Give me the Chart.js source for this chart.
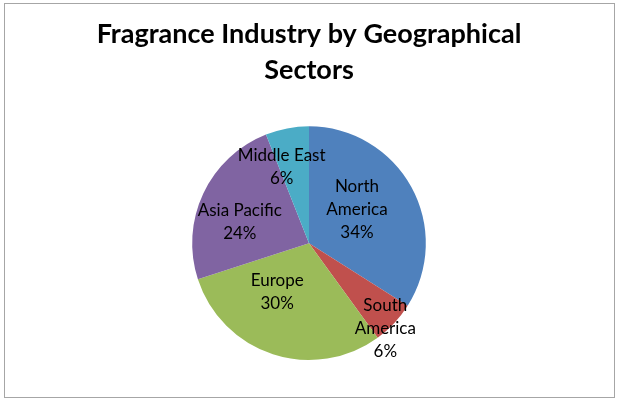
<!DOCTYPE html>
<html>
<head>
<meta charset="utf-8">
<script src="https://cdn.jsdelivr.net/npm/chart.js@4.4.1/dist/chart.umd.min.js"></script>
<style>
    html, body { margin: 0; padding: 0; background: #fff; }
    #frame {
        position: absolute; left: 4px; top: 3px;
        width: 609px; height: 393px;
        border: 1px solid #a6a6a6;
    }
    #wrap { position: absolute; left: 0; top: 0; width: 618px; height: 405px; }
</style>
</head>
<body>
<div id="frame"></div>
<div id="wrap"><canvas id="pie-chart" width="618" height="405"></canvas></div>
<script>
const categories = ["North America", "South America", "Europe", "Asia Pacific", "Middle East"];
const shares = [34, 6, 30, 24, 6];
const colors = ["#4F81BD", "#C0504D", "#9BBB59", "#8064A2", "#4BACC6"];

// where each label sits: fraction of radius, angle nudge (deg), wrap name
const labelPlace = [
    { f: 0.5, da: -6, wrap: true },
    { f: 0.98, da: 5, wrap: true },
    { f: 0.5, da: 15, wrap: false },
    { f: 0.62, da: -8, wrap: false },
    { f: 0.69, da: -9, wrap: false },
];

const sliceLabels = {
    id: "sliceLabels",
    afterDatasetsDraw(chart) {
        const ctx = chart.ctx;
        const meta = chart.getDatasetMeta(0);
        ctx.save();
        ctx.font = "17px Lato";
        ctx.fillStyle = "#000";
        ctx.textAlign = "center";
        ctx.textBaseline = "middle";
        meta.data.forEach((arc, i) => {
            const p = arc.getProps(["x", "y", "startAngle", "endAngle", "outerRadius"], true);
            const place = labelPlace[i];
            const mid = (p.startAngle + p.endAngle) / 2 + place.da * Math.PI / 180;
            const r = p.outerRadius * place.f;
            const cx = p.x + Math.cos(mid) * r;
            const cy = p.y + Math.sin(mid) * r;
            const lines = place.wrap ? categories[i].split(" ") : [categories[i]];
            lines.push(shares[i] + "%");
            const lh = 23;
            const top = cy - (lines.length - 1) * lh / 2;
            lines.forEach((t, k) => ctx.fillText(t, cx, top + k * lh));
        });
        ctx.restore();
    },
};

new Chart(document.querySelector("#pie-chart"), {
    type: "pie",
    data: {
        labels: categories,
        datasets: [
            {
                data: shares,
                backgroundColor: colors,
                borderWidth: 0,
            },
        ],
    },
    options: {
        responsive: false,
        animation: false,
        layout: { padding: { top: 0, bottom: 45, left: 0, right: 0 } },
        plugins: {
            legend: { display: false },
            tooltip: { enabled: false },
            title: {
                display: true,
                text: ["Fragrance Industry by Geographical", "Sectors"],
                color: "#000",
                font: { family: "Lato", size: 27, weight: "bold", lineHeight: 1.34 },
                padding: { top: 16, bottom: 38 },
            },
        },
    },
    plugins: [sliceLabels],
});
</script>
</body>
</html>
